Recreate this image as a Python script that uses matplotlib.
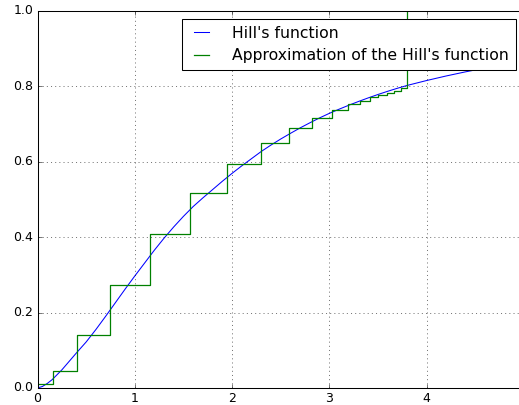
import matplotlib
matplotlib.use('Agg')
import matplotlib.pyplot as plt

# Hill's function
hill_x = [0.0, 0.05, 0.1, 0.15, 0.2, 0.25, 0.3, 0.4, 0.5, 0.6, 0.7, 0.8, 0.9,
          1.0, 1.1, 1.2, 1.3, 1.4, 1.5, 1.6, 1.7, 1.8, 1.9,
          2.0, 2.1, 2.2, 2.3, 2.4, 2.5, 2.6, 2.7, 2.8, 2.9,
          3.0, 3.1, 3.2, 3.3, 3.4, 3.5, 3.6, 3.7, 3.8, 3.9,
          4.0, 4.2, 4.4, 4.6, 4.8, 4.9]
hill_y = [0.0, 0.004, 0.012, 0.022, 0.035, 0.048, 0.063, 0.093, 0.122, 0.155, 0.19, 0.226, 0.262,
          0.297, 0.331, 0.365, 0.397, 0.427, 0.455, 0.481, 0.504, 0.526, 0.548,
          0.569, 0.589, 0.608, 0.627, 0.644, 0.66, 0.675, 0.6895, 0.703, 0.716,
          0.728, 0.739, 0.7495, 0.7595, 0.769, 0.778, 0.7865, 0.7945, 0.802, 0.8085,
          0.815, 0.827, 0.838, 0.848, 0.857, 0.861]

# step approximation: left edge of each step and its level
step_x = [0.0, 0.162, 0.403, 0.748, 1.153, 1.567, 1.951, 2.292, 2.585, 2.824,
          3.024, 3.186, 3.314, 3.417, 3.503, 3.589, 3.664, 3.733, 3.801, 5.0]
step_y = [0.01, 0.046, 0.140, 0.273, 0.407, 0.516, 0.594, 0.649, 0.689, 0.716,
          0.737, 0.752, 0.761, 0.770, 0.777, 0.783, 0.788, 0.795, 1.2, 1.2]

plt.style.use('classic')
plt.rcParams['font.family'] = ['DejaVu Sans']

fig = plt.figure(figsize=(519 / 75, 405 / 75), dpi=75)
ax = fig.add_axes([0.0723, 0.042, 0.9374, 0.9316])

ax.plot(hill_x, hill_y, color='#0000ff', lw=1.0, label="Hill's function")
ax.step(step_x, step_y, color='#008000', lw=1.2, where='post',
        label="Approximation of the Hill's function")

ax.set_xlim(0, 5)
ax.set_ylim(0, 1)
ax.set_xticks([0, 1, 2, 3, 4])
ax.grid(True)
ax.legend(loc='upper right', fontsize=15, handlelength=1.55, handletextpad=1.2,
          borderpad=0.45)

fig.savefig('out.png', dpi=75, facecolor='white')
